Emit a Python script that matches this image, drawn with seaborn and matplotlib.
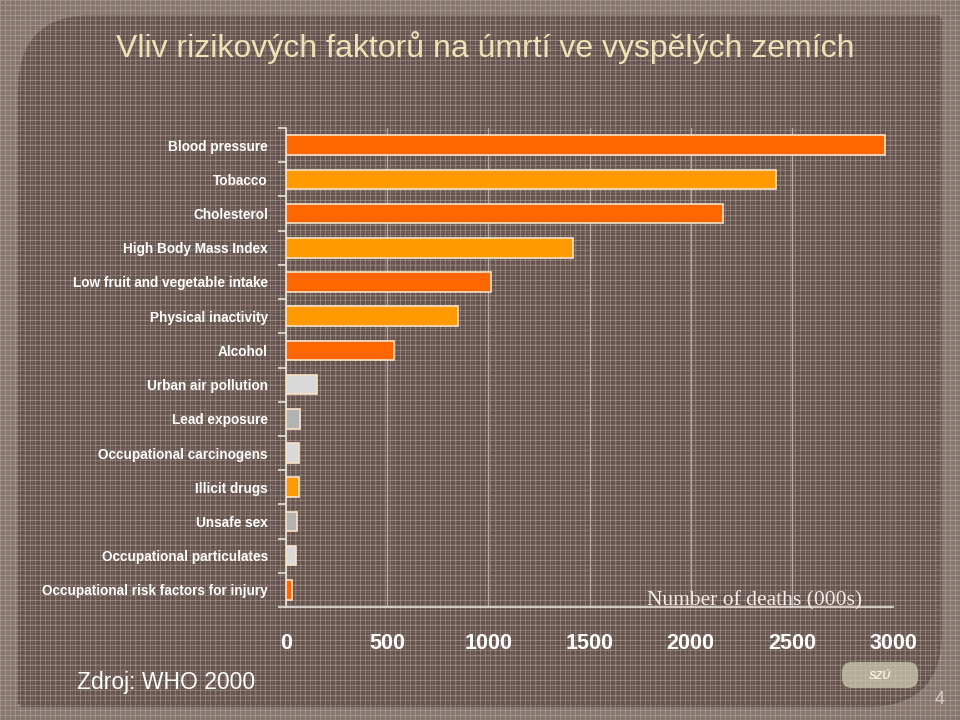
import numpy as np
import matplotlib
matplotlib.use("Agg")
import matplotlib.pyplot as plt
import seaborn as sns
from matplotlib.path import Path
from matplotlib.patches import PathPatch, FancyBboxPatch

categories = ["Blood pressure", "Tobacco", "Cholesterol", "High Body Mass Index",
              "Low fruit and vegetable intake", "Physical inactivity", "Alcohol",
              "Urban air pollution", "Lead exposure", "Occupational carcinogens",
              "Illicit drugs", "Unsafe sex", "Occupational particulates",
              "Occupational risk factors for injury"]
values = [2960, 2420, 2160, 1420, 1015, 850, 535, 153, 70, 64, 64, 56, 50, 32]
DARK_OR, LIGHT_OR, LGRAY, DGRAY = "#FF6600", "#FF9900", "#D9D9D9", "#B2B2B2"
bar_colors = [DARK_OR, LIGHT_OR, DARK_OR, LIGHT_OR, DARK_OR, LIGHT_OR, DARK_OR,
              LGRAY, DGRAY, LGRAY, LIGHT_OR, DGRAY, LGRAY, DARK_OR]
xticks = [0, 500, 1000, 1500, 2000, 2500, 3000]

sns.set_theme(style="white")
plt.rcParams["font.family"] = ["Liberation Sans", "DejaVu Sans"]

fig = plt.figure(figsize=(9.6, 7.2), dpi=100)
fig.patch.set_facecolor("#85766f")

# background decoration
bg = fig.add_axes([0, 0, 1, 1])
bg.set_xlim(0, 960)
bg.set_ylim(720, 0)
bg.axis("off")
bg.vlines(np.arange(0, 961, 5), 0, 720, color="#d8c8b8", lw=0.5, alpha=0.45)
bg.hlines(np.arange(0, 721, 5), 0, 960, color="#d8c8b8", lw=0.5, alpha=0.45)

L, T, R, B, rad = 18, 15, 940, 704, 75
verts = [(L + rad, T), (R, T), (R, B - rad), (R, B), (R - rad, B), (L, B),
         (L, T + rad), (L, T), (L + rad, T), (L + rad, T)]
codes = [Path.MOVETO, Path.LINETO, Path.LINETO, Path.CURVE3, Path.CURVE3,
         Path.LINETO, Path.LINETO, Path.CURVE3, Path.CURVE3, Path.CLOSEPOLY]
panel_path = Path(verts, codes)
shadow = PathPatch(panel_path.transformed(matplotlib.transforms.Affine2D().translate(2, 3)),
                   facecolor="#4a3d3a", edgecolor="none", alpha=0.6)
bg.add_patch(shadow)
panel = PathPatch(panel_path, facecolor="#64534f", edgecolor="none")
bg.add_patch(panel)
lv = bg.vlines(np.arange(0, 961, 8), 0, 720, color="#c8b0a8", lw=0.5, alpha=0.18)
lh = bg.hlines(np.arange(0, 721, 8), 0, 960, color="#c8b0a8", lw=0.5, alpha=0.18)
lv.set_clip_path(panel)
lh.set_clip_path(panel)

# main chart
ax = fig.add_axes([286 / 960, 1 - 607 / 720, (893 - 286) / 960, (607 - 128) / 720])
ax.set_facecolor("none")
sns.barplot(x=values, y=categories, hue=categories, palette=bar_colors, legend=False,
            orient="h", width=0.57, saturation=1, edgecolor="#fbe3c8", linewidth=1.2,
            ax=ax, zorder=3)
ax.set_xlim(0, 3000)
ax.set_ylim(len(categories) - 0.5, -0.5)
ax.set_xticks(xticks)
ax.set_xticklabels([str(v) for v in xticks])
ax.grid(axis="x", color="#b8aaa6", lw=0.9, zorder=0)
ax.grid(axis="y", visible=False)
for s in ["top", "right"]:
    ax.spines[s].set_visible(False)
for s in ["left", "bottom"]:
    ax.spines[s].set_color("#e8e0dc")
    ax.spines[s].set_linewidth(1.2)
ax.tick_params(axis="x", colors="#e8e0dc", length=6, width=1.2, direction="out", pad=13,
               labelcolor="white", labelsize=15.5)
for lbl in ax.get_xticklabels():
    lbl.set_fontweight("bold")
ax.set_yticks(np.arange(len(categories)))
ax.set_yticklabels(categories)
ax.tick_params(axis="y", which="major", length=0, pad=13, labelcolor="white", labelsize=9.8)
for lbl in ax.get_yticklabels():
    lbl.set_fontweight("bold")
ax.set_yticks(np.arange(-0.5, len(categories), 1), minor=True)
ax.tick_params(axis="y", which="minor", length=6, width=1.2, color="#e8e0dc", direction="out", left=True)
ax.set_xlabel("")
ax.set_ylabel("")

fig.text(755 / 960, 1 - 601 / 720, "Number of deaths (000s)", ha="center", va="center",
         fontsize=15.5, color="#f2ece8", family=["Liberation Serif", "DejaVu Serif"])
fig.text(485 / 960, 1 - 48 / 720, "Vliv rizikových faktorů na úmrtí ve vyspělých zemích",
         ha="center", va="center", fontsize=23, color="#f0e2b6")
fig.text(166 / 960, 1 - 683 / 720, "Zdroj: WHO 2000", ha="center", va="center",
         fontsize=16.5, color="white")
fig.text(940 / 960, 1 - 699 / 720, "4", ha="center", va="center", fontsize=13, color="#d8d0cc")

# logo blob
bg.add_patch(FancyBboxPatch((845, 665), 70, 20, boxstyle="round,pad=3,rounding_size=10",
                            facecolor="#bdb79e", edgecolor="none", alpha=0.9))
bg.text(880, 676, "SZÚ", ha="center", va="center", fontsize=8, color="#f4f0e0",
        fontstyle="italic", fontweight="bold")

fig.savefig("out.png", dpi=100, facecolor=fig.get_facecolor())
